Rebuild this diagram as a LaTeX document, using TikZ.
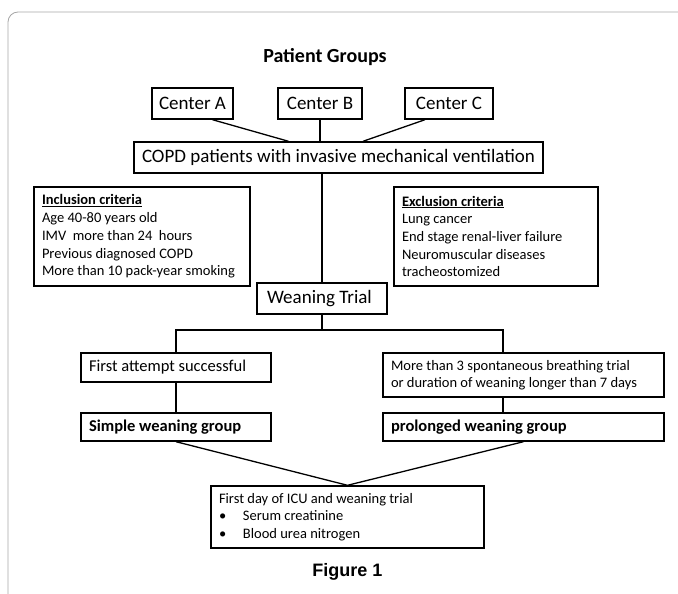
\documentclass[tikz,border=0pt]{standalone}
\usepackage{fontspec}
\setmainfont{Carlito}
\newfontfamily\figfont{Liberation Sans}
\newcommand{\bigtxt}{\fontsize{19}{23}\selectfont}
\newcommand{\midtxt}{\fontsize{16.5}{19.5}\selectfont}
\newcommand{\smalltxt}{\fontsize{14.5}{17.7}\selectfont}
\newcommand{\bul}{\makebox[24pt][l]{\textbullet}}
\tikzset{
  box/.style={draw, line width=1.4pt, inner ysep=0pt, align=flush left},
  link/.style={line width=1.3pt},
  frame/.style={draw=black!35, line width=0.8pt, rounded corners=10pt}
}
\begin{document}
\begin{tikzpicture}[x=1pt, y=-1pt]
                \useasboundingbox (0,0) rectangle (678,594);
                \draw[frame] (8,620) -- (8,12) -- (700,12);

                \node[font=\bfseries\fontsize{20}{24}\selectfont] (head) at (325,57){Patient Groups};
                 \node[box, font=\bigtxt, minimum width=81, minimum height=31, inner xsep=0pt] (ca) at (192.5,103.5){Center A};
                 \node[box, font=\bigtxt, minimum width=84, minimum height=31, inner xsep=0pt] (cb) at (320,103.5){Center B};
                 \node[box, font=\bigtxt, minimum width=88, minimum height=31, inner xsep=0pt] (cc) at (449,103.5){Center C};
                 \node[box, font=\bigtxt, align=flush center, text width=405, inner xsep=2, minimum height=31] (copd) at (338.5,157.5){COPD patients with invasive mechanical ventilation};

                    \node[box, font=\smalltxt, text width=200, inner xsep=8, minimum height=99] (incl) at (142,236.5){\underline{\textbf{Inclusion criteria}}\\ Age 40-80 years old\\ IMV\ \ more than 24\ \ hours\\ Previous diagnosed COPD\\ More than 10 pack-year smoking};
                    \node[box, font=\smalltxt, text width=188, inner xsep=8, minimum height=99] (excl) at (496,236.5){\underline{\textbf{Exclusion criteria}}\\ Lung cancer\\ End stage renal-liver failure\\ Neuromuscular diseases\\ tracheostomized};

                 \node[box, font=\bigtxt, text width=110, inner xsep=10, minimum height=31] (wean) at (322,298.5){Weaning Trial};
                    \coordinate (split) at (322,330);

                    \node[box, font=\midtxt, text width=174, inner xsep=8, minimum height=29] (first) at (176,367.5){First attempt successful};
                    \node[box, font=\fontsize{14.5}{16.5}\selectfont, text width=265, inner xsep=8, minimum height=44] (more) at (523.5,375){More than 3 spontaneous breathing trial\\ or duration of weaning longer than 7 days};
                    \node[box, font=\midtxt\bfseries, text width=174, inner xsep=8, minimum height=28] (simple) at (176,427){Simple weaning group};
                    \node[box, font=\midtxt\bfseries, text width=265, inner xsep=8, minimum height=28] (prolonged) at (523.5,427){prolonged weaning group};

                 \node[box, font=\fontsize{14.5}{17.3}\selectfont, text width=257, inner xsep=8, minimum height=62] (labs) at (347.5,517){First day of ICU and weaning trial\\ \bul Serum creatinine\\ \bul Blood urea nitrogen};
                 \node[font=\figfont\bfseries\fontsize{18}{22}\selectfont] (caption) at (347.5,572){Figure 1};

                \draw[link] ([xshift=20pt]ca.south) to ([xshift=-50pt]copd.north);
                \draw[link] (cb.south) to (cb.south |- copd.north);
                \draw[link] ([xshift=-24pt]cc.south) to ([xshift=24.5pt]copd.north);
                \draw[link] (wean.north |- copd.south) to (wean.north);
                \draw[link] (wean.south) to (split);
                \draw[link] (first.north) |- (split) -| ([xshift=-20.5pt]more.north);
                \draw[link] (first.south) to (simple.north);
                \draw[link] ([xshift=-20.5pt]more.south) to ([xshift=-20.5pt]prolonged.north);
                \draw[link] (simple.south) to (labs.north);
                \draw[link] (prolonged.south) to (labs.north);

\end{tikzpicture}
\end{document}
